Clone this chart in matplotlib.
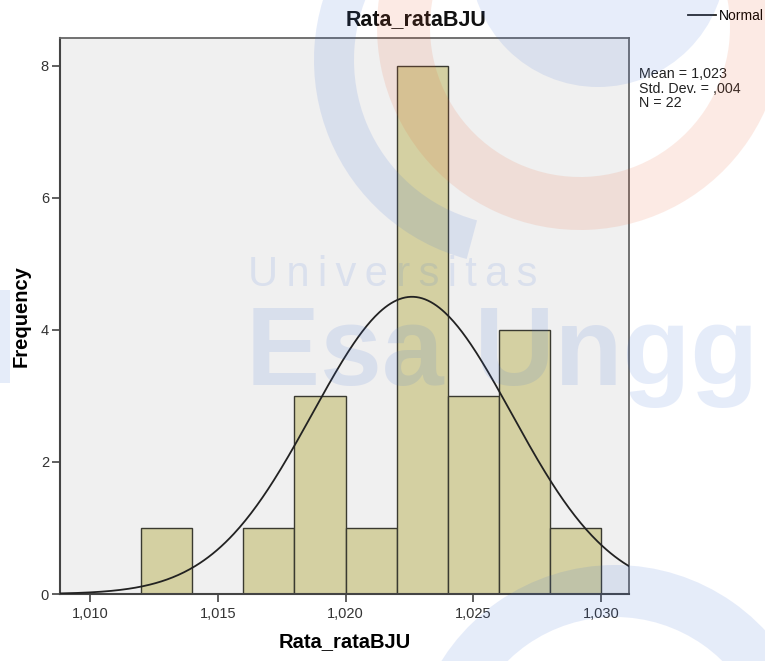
import matplotlib
matplotlib.use("Agg")
import matplotlib.pyplot as plt
import numpy as np
from matplotlib.patches import Wedge, Circle, Rectangle
from matplotlib.ticker import FuncFormatter

plt.rcParams['font.family'] = ['Liberation Sans', 'DejaVu Sans']

# histogram of Rata_rataBJU (bin width 0,002)
bin_edges = [1.012, 1.014, 1.016, 1.018, 1.020, 1.022, 1.024, 1.026, 1.028, 1.030]
counts = [1, 0, 1, 3, 1, 8, 3, 4, 1]
x_ticks = [1.010, 1.015, 1.020, 1.025, 1.030]
y_ticks = [0, 2, 4, 6, 8]

# fitted normal curve
MEAN = 1.0226
STD = 0.0039
N = 22
stats_lines = ["Mean = 1,023", "Std. Dev. = ,004", "N = 22"]

W, H = 765, 661
DPI = 100

fig = plt.figure(figsize=(W / DPI, H / DPI), dpi=DPI)
fig.patch.set_facecolor('white')

ax = fig.add_axes([60 / W, 1 - 594 / H, 569 / W, 556 / H])
ax.set_facecolor('#F0F0F0')

widths = np.diff(bin_edges)
ax.bar(bin_edges[:-1], counts, width=widths, align='edge',
       color='#D4D0A2', edgecolor='#3A3A30', linewidth=1.0, zorder=2)

x = np.linspace(1.00883, 1.03109, 400)
bw = widths[0]
y = N * bw / (STD * np.sqrt(2 * np.pi)) * np.exp(-0.5 * ((x - MEAN) / STD) ** 2)
ax.plot(x, y, color='#222222', linewidth=1.3, zorder=3, label='Normal')

ax.set_xlim(1.00883, 1.03109)
ax.set_ylim(0, 8.42)
ax.set_xticks(x_ticks)
ax.set_yticks(y_ticks)
ax.xaxis.set_major_formatter(FuncFormatter(lambda v, p: f"{v:.3f}".replace('.', ',')))
ax.tick_params(axis='both', direction='out', length=6, width=1.2,
               color='#444444', labelcolor='#333333', labelsize=10.5)
ax.tick_params(axis='x', pad=3)
ax.tick_params(axis='y', pad=2)
for side in ['left', 'bottom']:
    ax.spines[side].set_color('#444444')
    ax.spines[side].set_linewidth(1.5)
for side in ['top', 'right']:
    ax.spines[side].set_color('#666666')
    ax.spines[side].set_linewidth(1.3)

ax.set_xlabel('Rata_rataBJU', fontsize=14.5, fontweight='bold', labelpad=8)
ax.set_ylabel('Frequency', fontsize=14.5, fontweight='bold', labelpad=7)

fig.text(416 / W, 1 - 20 / H, 'Rata_rataBJU', fontsize=15.5, fontweight='bold',
         ha='center', va='center', color='#111111')

ax.legend(loc='center left', bbox_to_anchor=(688 / W, 1 - 16 / H),
          bbox_transform=fig.transFigure, frameon=False, fontsize=10,
          handlelength=2.0, handletextpad=0.2, borderaxespad=0, borderpad=0)

fig.text(639 / W, 1 - 67 / H, "\n".join(stats_lines), fontsize=10.3,
         ha='left', va='top', linespacing=1.05, color='#222222')

# faint university watermark on top of everything
wm = fig.add_axes([0, 0, 1, 1], zorder=10)
wm.set_xlim(0, W)
wm.set_ylim(H, 0)
wm.axis('off')
wm.patch.set_visible(False)
blue = '#3C6ED8'
orange = '#EB5A28'
wm.add_patch(Wedge((520, 60), 206, 105, 210, width=40, color=blue, alpha=0.13, lw=0))
wm.add_patch(Circle((598, -41), 128, color=blue, alpha=0.12, lw=0))
wm.add_patch(Wedge((580, 27), 203, -20, 195, width=53, color=orange, alpha=0.12, lw=0))
wm.add_patch(Wedge((615, 770), 205, 200, 340, width=52, color=blue, alpha=0.13, lw=0))
wm.add_patch(Rectangle((0, 290), 10, 93, color=blue, alpha=0.13, lw=0))
wm.text(248, 286, "U\u2009n\u2009i\u2009v\u2009e\u2009r\u2009s\u2009i\u2009t\u2009a\u2009s",
        fontsize=30, color=blue, alpha=0.12, ha='left', va='baseline')
wm.text(246, 385, "Esa Ungg", fontsize=80, fontweight='bold',
        color=blue, alpha=0.13, ha='left', va='baseline')

fig.savefig('out.png', dpi=DPI)
